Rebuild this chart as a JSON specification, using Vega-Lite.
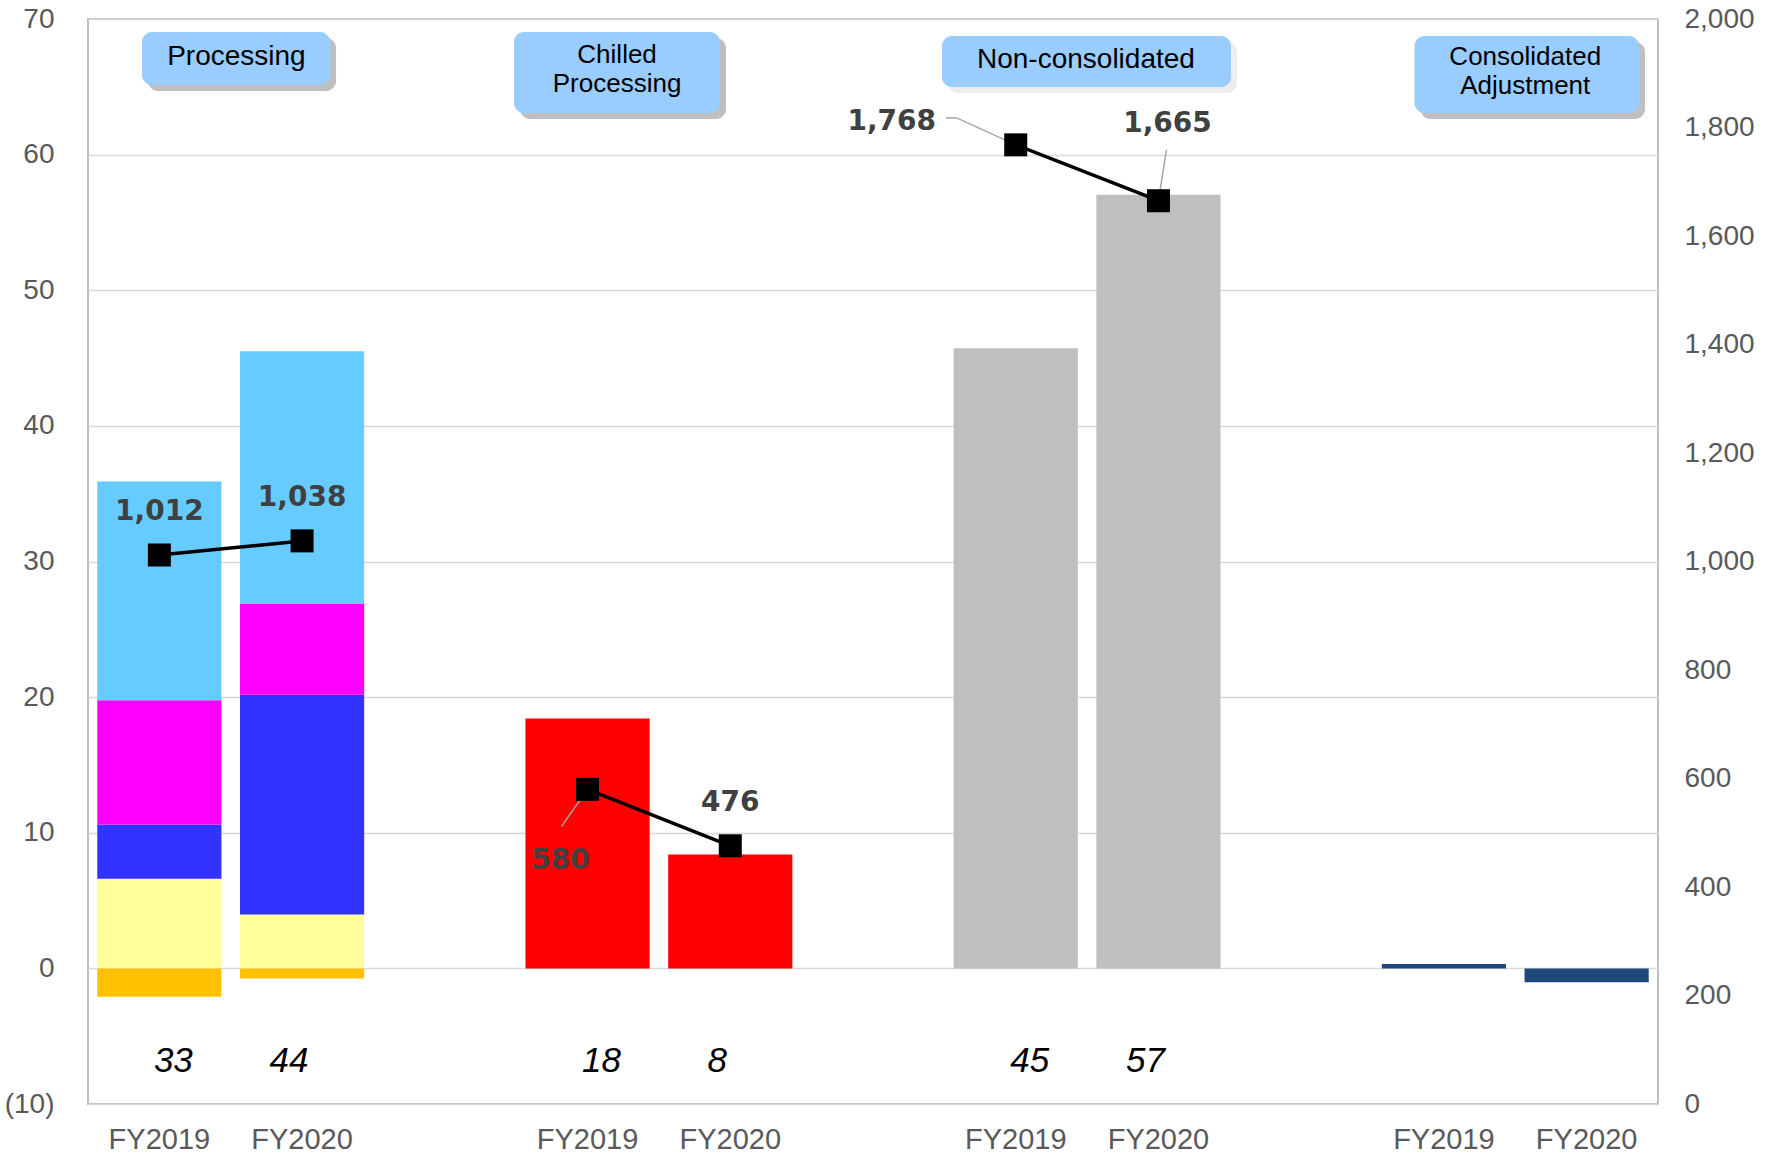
{
  "$schema": "https://vega.github.io/schema/vega-lite/v6.json",
  "width": 1570,
  "height": 1085,
  "autosize": {"type": "none"},
  "padding": {"left": 88, "top": 19, "right": 117, "bottom": 49},
  "background": "white",
  "config": {"view": {"stroke": "#BFBFBF", "strokeWidth": 2}, "font": "Liberation Sans"},
  "datasets": {
    "bars": [
      {"slot": "Processing|FY2019", "seg": "Segment A", "k": 1, "v": 6.6},
      {"slot": "Processing|FY2019", "seg": "Segment B", "k": 2, "v": 4.0},
      {"slot": "Processing|FY2019", "seg": "Segment C", "k": 3, "v": 9.17},
      {"slot": "Processing|FY2019", "seg": "Segment D", "k": 4, "v": 16.13},
      {"slot": "Processing|FY2019", "seg": "Segment E", "k": 5, "v": -2.1},
      {"slot": "Processing|FY2020", "seg": "Segment A", "k": 1, "v": 3.97},
      {"slot": "Processing|FY2020", "seg": "Segment B", "k": 2, "v": 16.2},
      {"slot": "Processing|FY2020", "seg": "Segment C", "k": 3, "v": 6.7},
      {"slot": "Processing|FY2020", "seg": "Segment D", "k": 4, "v": 18.63},
      {"slot": "Processing|FY2020", "seg": "Segment E", "k": 5, "v": -0.75},
      {"slot": "Chilled|FY2019", "seg": "Chilled Processing", "k": 1, "v": 18.42},
      {"slot": "Chilled|FY2020", "seg": "Chilled Processing", "k": 1, "v": 8.39},
      {"slot": "NonCons|FY2019", "seg": "Non-consolidated", "k": 1, "v": 45.72},
      {"slot": "NonCons|FY2020", "seg": "Non-consolidated", "k": 1, "v": 57.05},
      {"slot": "Adj|FY2019", "seg": "Consolidated Adjustment", "k": 1, "v": 0.33},
      {"slot": "Adj|FY2020", "seg": "Consolidated Adjustment", "k": 1, "v": -1.02}
    ],
    "totals": [
      {"slot": "Processing|FY2019", "yr": "FY2019", "total": 33},
      {"slot": "Processing|FY2020", "yr": "FY2020", "total": 44},
      {"slot": "Chilled|FY2019", "yr": "FY2019", "total": 18},
      {"slot": "Chilled|FY2020", "yr": "FY2020", "total": 8},
      {"slot": "NonCons|FY2019", "yr": "FY2019", "total": 45},
      {"slot": "NonCons|FY2020", "yr": "FY2020", "total": 57}
    ],
    "lines": [
      {"slot": "Processing|FY2019", "grp": "Processing", "v": 1012},
      {"slot": "Processing|FY2020", "grp": "Processing", "v": 1038},
      {"slot": "Chilled|FY2019", "grp": "Chilled", "v": 580},
      {"slot": "Chilled|FY2020", "grp": "Chilled", "v": 476},
      {"slot": "NonCons|FY2019", "grp": "NonCons", "v": 1768},
      {"slot": "NonCons|FY2020", "grp": "NonCons", "v": 1665}
    ],
    "boxes": [
      {"name": "Processing", "text": "Processing", "lines": 1, "x1": 0.378, "x2": 1.696, "y1": 69.04, "y2": 65.13, "tx": 1.04, "ty": 67.22},
      {"name": "Chilled", "text": "Chilled\nProcessing", "lines": 2, "x1": 2.985, "x2": 4.428, "y1": 69.04, "y2": 63.07, "tx": 3.707, "ty": 67.32},
      {"name": "NonCons", "text": "Non-consolidated", "lines": 1, "x1": 5.983, "x2": 8.008, "y1": 68.75, "y2": 64.99, "tx": 6.992, "ty": 66.95},
      {"name": "Adj", "text": "Consolidated\nAdjustment", "lines": 2, "x1": 9.294, "x2": 10.867, "y1": 68.75, "y2": 63.07, "tx": 10.07, "ty": 67.2}
    ]
  },
  "layer": [
    {
      "layer": [
        {
          "layer": [
            {
              "data": {"name": "bars"},
              "mark": {"type": "bar"},
              "encoding": {
                "x": {
                  "field": "slot", "type": "nominal",
                  "scale": {"type": "band", "domain": ["Processing|FY2019", "Processing|FY2020", "gap1", "Chilled|FY2019", "Chilled|FY2020", "gap2", "NonCons|FY2019", "NonCons|FY2020", "gap3", "Adj|FY2019", "Adj|FY2020"], "paddingInner": 0.13, "paddingOuter": 0.065},
                  "axis": {"title": null, "labelExpr": "indexof(datum.value,'|') >= 0 ? split(datum.value,'|')[1] : ''", "labelAngle": 0, "ticks": false, "domain": false, "grid": false, "labelPadding": 21, "labelFontSize": 29, "labelColor": "#595959", "labelFont": "Liberation Sans", "labelBaseline": "top"}
                },
                "y": {
                  "field": "v", "type": "quantitative", "stack": "zero",
                  "scale": {"domain": [-10, 70], "nice": false, "zero": false},
                  "axis": {"orient": "left", "title": null, "values": [-10, 0, 10, 20, 30, 40, 50, 60, 70], "labelExpr": "datum.value < 0 ? '(' + abs(datum.value) + ')' : datum.label", "grid": true, "gridColor": "#D9D9D9", "gridWidth": 1.5, "ticks": false, "domain": false, "labelPadding": 34, "labelFontSize": 28, "labelColor": "#595959", "labelFont": "Liberation Sans"}
                },
                "color": {
                  "field": "seg", "type": "nominal", "legend": null,
                  "scale": {"domain": ["Segment A", "Segment B", "Segment C", "Segment D", "Segment E", "Chilled Processing", "Non-consolidated", "Consolidated Adjustment"], "range": ["#FFFF99", "#3333FF", "#FF00FF", "#66CCFF", "#FFC000", "#FF0000", "#BFBFBF", "#1F497D"]}
                },
                "order": {"field": "k", "type": "quantitative", "sort": "ascending"}
              }
            },
            {
              "mark": {"type": "rule", "color": "black", "strokeWidth": 2},
              "encoding": {"y": {"datum": 0, "type": "quantitative"}}
            },
            {
              "data": {"name": "totals"},
              "transform": [{"filter": "datum.yr == 'FY2019'"}],
              "mark": {"type": "text", "fontStyle": "italic", "fontSize": 35, "color": "black", "baseline": "middle", "dx": 14, "font": "Liberation Sans"},
              "encoding": {
                "x": {"field": "slot", "type": "nominal"},
                "y": {"datum": -6.8, "type": "quantitative"},
                "text": {"field": "total", "type": "quantitative"}
              }
            },
            {
              "data": {"name": "totals"},
              "transform": [{"filter": "datum.yr == 'FY2020'"}],
              "mark": {"type": "text", "fontStyle": "italic", "fontSize": 35, "color": "black", "baseline": "middle", "dx": -13, "font": "Liberation Sans"},
              "encoding": {
                "x": {"field": "slot", "type": "nominal"},
                "y": {"datum": -6.8, "type": "quantitative"},
                "text": {"field": "total", "type": "quantitative"}
              }
            }
          ]
        },
        {
          "data": {"name": "lines"},
          "encoding": {
            "x": {"field": "slot", "type": "nominal"},
            "y": {
              "field": "v", "type": "quantitative",
              "scale": {"domain": [0, 2000], "nice": false, "zero": false},
              "axis": {"orient": "right", "title": null, "values": [0, 200, 400, 600, 800, 1000, 1200, 1400, 1600, 1800, 2000], "format": ",.0f", "grid": false, "ticks": false, "domain": false, "labelPadding": 26, "labelFontSize": 28, "labelColor": "#595959", "labelFont": "Liberation Sans"}
            }
          },
          "layer": [
            {
              "transform": [{"filter": "datum.v == 580"}],
              "mark": {"type": "rule", "color": "#A6A6A6", "strokeWidth": 1.5, "x2Offset": -26, "y2Offset": 37},
              "encoding": {"x2": {"field": "slot"}, "y2": {"field": "v"}}
            },
            {
              "transform": [{"filter": "datum.v == 1768"}],
              "mark": {"type": "rule", "color": "#A6A6A6", "strokeWidth": 1.5, "x2Offset": -59, "y2Offset": -27},
              "encoding": {"x2": {"field": "slot"}, "y2": {"field": "v"}}
            },
            {
              "transform": [{"filter": "datum.v == 1768"}],
              "mark": {"type": "rule", "color": "#A6A6A6", "strokeWidth": 1.5, "xOffset": -59, "yOffset": -27, "x2Offset": -70, "y2Offset": -27},
              "encoding": {"x2": {"field": "slot"}, "y2": {"field": "v"}}
            },
            {
              "transform": [{"filter": "datum.v == 1665"}],
              "mark": {"type": "rule", "color": "#A6A6A6", "strokeWidth": 1.5, "x2Offset": 8, "y2Offset": -51},
              "encoding": {"x2": {"field": "slot"}, "y2": {"field": "v"}}
            },
            {
              "mark": {"type": "line", "color": "black", "strokeWidth": 3.5},
              "encoding": {"detail": {"field": "grp", "type": "nominal"}}
            },
            {
              "mark": {"type": "point", "shape": "square", "filled": true, "size": 529, "color": "black", "opacity": 1},
              "encoding": {}
            },
            {
              "transform": [{"filter": "datum.v == 1012 || datum.v == 1038 || datum.v == 476"}],
              "mark": {"type": "text", "font": "DejaVu Sans", "fontWeight": "bold", "fontSize": 28, "color": "#404040", "baseline": "middle", "dy": -43},
              "encoding": {"text": {"field": "v", "type": "quantitative", "format": ","}}
            },
            {
              "transform": [{"filter": "datum.v == 580"}],
              "mark": {"type": "text", "font": "DejaVu Sans", "fontWeight": "bold", "fontSize": 28, "color": "#404040", "baseline": "middle", "dx": -27, "dy": 72},
              "encoding": {"text": {"field": "v", "type": "quantitative", "format": ","}}
            },
            {
              "transform": [{"filter": "datum.v == 1768"}],
              "mark": {"type": "text", "font": "DejaVu Sans", "fontWeight": "bold", "fontSize": 28, "color": "#404040", "baseline": "middle", "dx": -124, "dy": -23},
              "encoding": {"text": {"field": "v", "type": "quantitative", "format": ","}}
            },
            {
              "transform": [{"filter": "datum.v == 1665"}],
              "mark": {"type": "text", "font": "DejaVu Sans", "fontWeight": "bold", "fontSize": 28, "color": "#404040", "baseline": "middle", "dx": 9, "dy": -77},
              "encoding": {"text": {"field": "v", "type": "quantitative", "format": ","}}
            }
          ]
        }
      ],
      "resolve": {"scale": {"y": "independent"}}
    },
    {
      "data": {"name": "boxes"},
      "encoding": {
        "x": {"field": "x1", "type": "quantitative", "scale": {"domain": [0, 11], "nice": false, "zero": false}, "axis": null},
        "x2": {"field": "x2"},
        "y": {"field": "y1", "type": "quantitative", "scale": {"domain": [-10, 70], "nice": false, "zero": false}, "axis": null},
        "y2": {"field": "y2"}
      },
      "layer": [
        {
          "transform": [{"filter": "datum.name != 'NonCons'"}],
          "mark": {"type": "rect", "cornerRadius": 10, "color": "#BFBFBF", "xOffset": 6, "x2Offset": 6, "yOffset": 6, "y2Offset": 6}
        },
        {
          "transform": [{"filter": "datum.name == 'NonCons'"}],
          "mark": {"type": "rect", "cornerRadius": 10, "color": "#EDEDED", "xOffset": 6, "x2Offset": 6, "yOffset": 6, "y2Offset": 6}
        },
        {
          "mark": {"type": "rect", "cornerRadius": 10, "color": "#99CCFF"}
        },
        {
          "transform": [{"filter": "datum.lines == 1"}],
          "mark": {"type": "text", "font": "Liberation Sans", "fontSize": 28, "color": "black", "align": "center", "baseline": "middle"},
          "encoding": {
            "x": {"field": "tx", "type": "quantitative"},
            "x2": null,
            "y": {"field": "ty", "type": "quantitative"},
            "y2": null,
            "text": {"field": "text", "type": "nominal"}
          }
        },
        {
          "transform": [{"filter": "datum.lines == 2"}],
          "mark": {"type": "text", "font": "Liberation Sans", "fontSize": 26, "color": "black", "align": "center", "baseline": "middle", "lineBreak": "\n", "lineHeight": 29},
          "encoding": {
            "x": {"field": "tx", "type": "quantitative"},
            "x2": null,
            "y": {"field": "ty", "type": "quantitative"},
            "y2": null,
            "text": {"field": "text", "type": "nominal"}
          }
        }
      ]
    }
  ],
  "resolve": {"scale": {"x": "independent", "y": "independent"}}
}
